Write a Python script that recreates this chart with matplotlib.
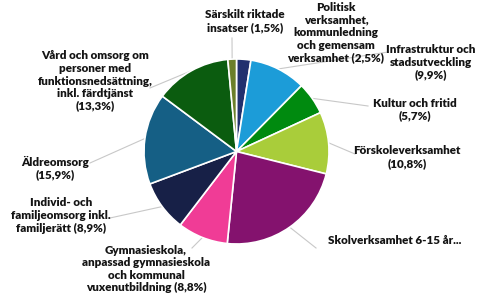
import numpy as np
import matplotlib
matplotlib.use("Agg")
import matplotlib.pyplot as plt

labels = [
    "Politisk\nverksamhet,\nkommunledning\noch gemensam\nverksamhet (2,5%)",
    "Infrastruktur och\nstadsutveckling\n(9,9%)",
    "Kultur och fritid\n(5,7%)",
    "Förskoleverksamhet\n(10,8%)",
    "Skolverksamhet 6-15 år...",
    "Gymnasieskola,\nanpassad gymnasieskola\noch kommunal\nvuxenutbildning (8,8%)",
    "Individ- och\nfamiljeomsorg inkl.\nfamiljerätt (8,9%)",
    "Äldreomsorg\n(15,9%)",
    "Vård och omsorg om\npersoner med\nfunktionsnedsättning,\ninkl. färdtjänst\n(13,3%)",
    "Särskilt riktade\ninsatser (1,5%)",
]
values = [2.5, 9.9, 5.7, 10.8, 22.7, 8.8, 8.9, 15.9, 13.3, 1.5]
colors = ["#22306e", "#1c9cd8", "#008a0f", "#a9cd3a", "#84126e",
          "#f03c96", "#172047", "#155f85", "#0b5c0f", "#6b7f2a"]

# layout (pixel coords, y from top)
W, H = 500, 300
cx, cy, R = 236.5, 151.5, 92.5
label_pos = [(336, 32.5), (431, 62), (415, 109.5), (407, 157), (328, 241),
             (146, 269), (61, 215.5), (55, 168), (95, 81), (245, 21)]
label_ha = ["center"] * 4 + ["left"] + ["center"] * 5
line_end = [None, (388, 52), (368, 106), (355, 154), (316, 248),
            (192, 248), (110, 218), (90, 163), (150, 88), (232, 38)]

fig = plt.figure(figsize=(5, 3), dpi=100)
ax = fig.add_axes([0, 0, 1, 1])
wedges, _ = ax.pie(values, colors=colors, startangle=90, counterclock=False,
                   center=(cx, H - cy), radius=R,
                   wedgeprops=dict(edgecolor="white", linewidth=1.2))
ax.set_xlim(0, W)
ax.set_ylim(0, H)
ax.set_aspect("equal")
ax.axis("off")

for w, lab, pos, ha, le in zip(wedges, labels, label_pos, label_ha, line_end):
    if le is not None:
        mid = np.deg2rad((w.theta1 + w.theta2) / 2)
        x0 = cx + R * np.cos(mid)
        y0 = (H - cy) + R * np.sin(mid)
        ax.plot([x0, le[0]], [y0, H - le[1]], color="#c8c8c8", lw=0.8,
                zorder=0)
    ax.text(pos[0], H - pos[1], lab, ha=ha, va="center", multialignment="center",
            fontsize=8.4, fontweight="heavy", family=["Lato", "DejaVu Sans"],
            color="#141414", linespacing=1.17)

fig.savefig("out.png", dpi=100)
